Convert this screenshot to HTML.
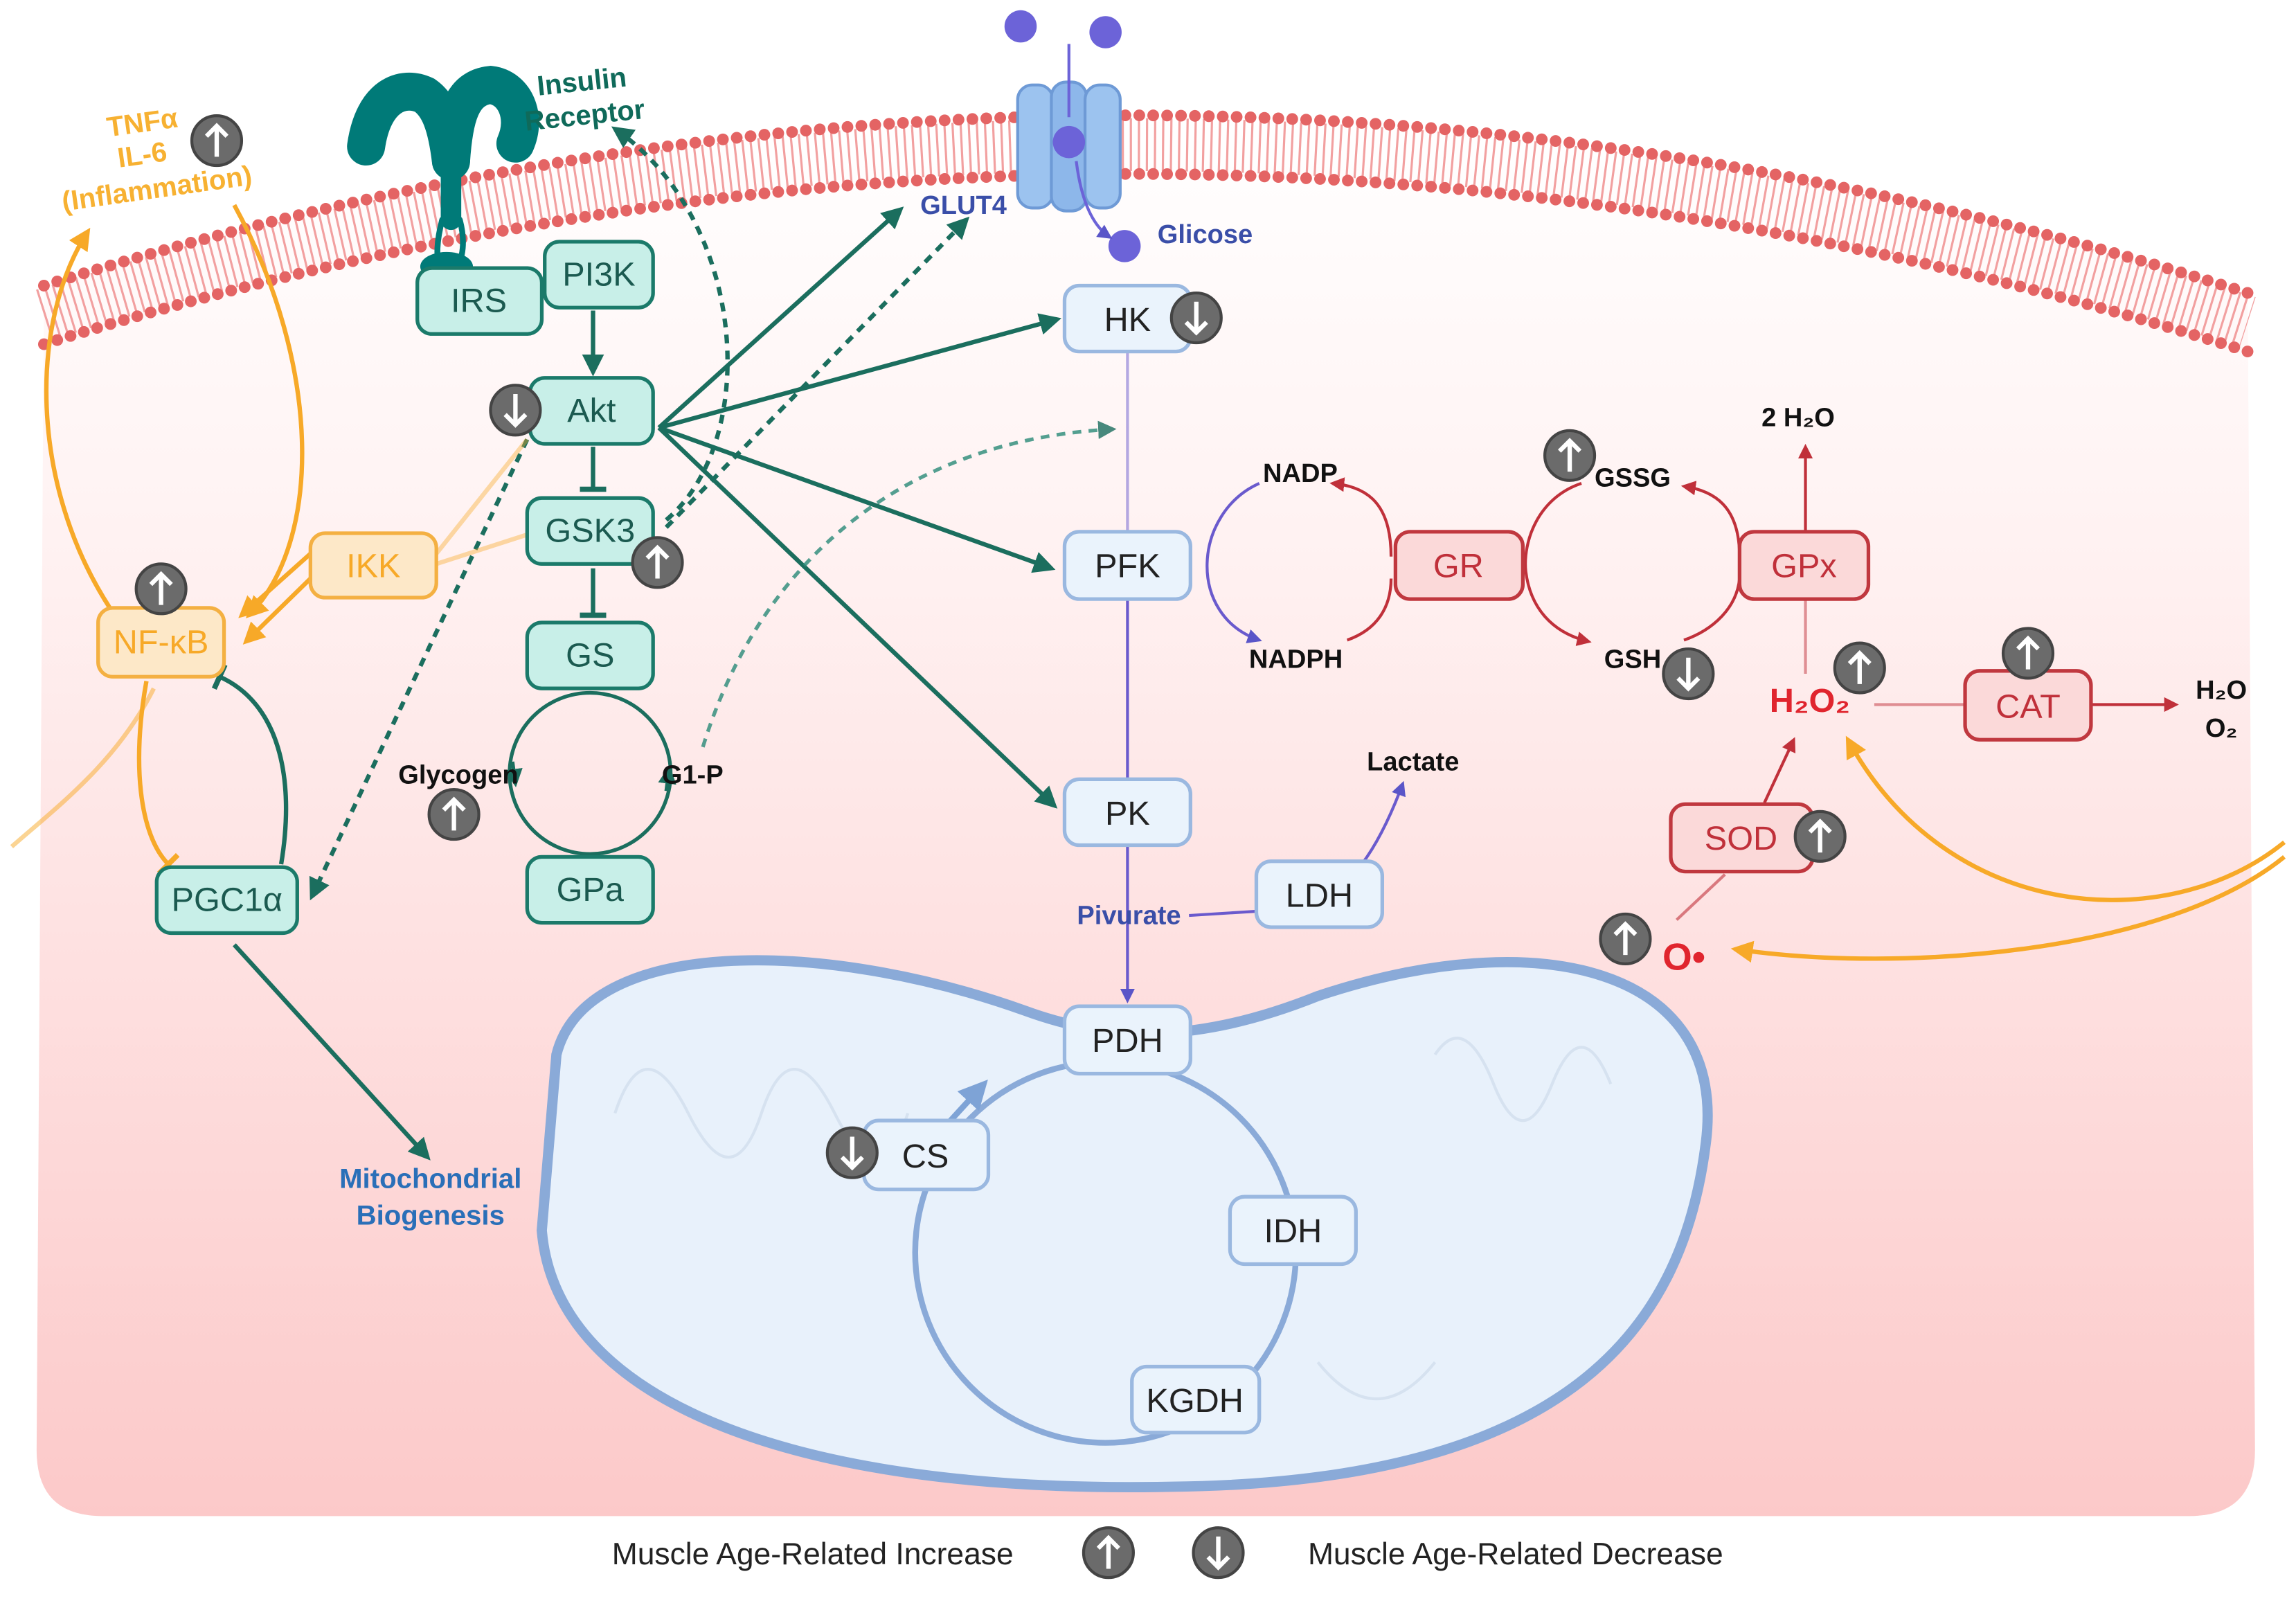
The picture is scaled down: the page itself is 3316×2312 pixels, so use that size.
<!DOCTYPE html>
<html><head><meta charset="utf-8"><style>
html,body{margin:0;padding:0;background:#fff}
svg{display:block}
text{font-family:"Liberation Sans",sans-serif}
.b{font-weight:bold}
</style></head><body>
<svg width="3316" height="2312" viewBox="0 0 1568 1093" preserveAspectRatio="none" xmlns="http://www.w3.org/2000/svg">
<defs>
<linearGradient id="cell" x1="0" y1="0" x2="0" y2="1">
<stop offset="0" stop-color="#ffffff"/><stop offset="0.3" stop-color="#fff2f2"/><stop offset="1" stop-color="#fcc9c9"/>
</linearGradient>
<marker id="at" viewBox="0 0 10 10" refX="8" refY="5" markerWidth="5" markerHeight="5" orient="auto"><path d="M0,0L10,5L0,10z" fill="#1b6e5e"/></marker>
<marker id="ao" viewBox="0 0 10 10" refX="8" refY="5" markerWidth="5" markerHeight="5" orient="auto"><path d="M0,0L10,5L0,10z" fill="#f7a928"/></marker>
<marker id="ar" viewBox="0 0 10 10" refX="8" refY="5" markerWidth="5" markerHeight="5" orient="auto"><path d="M0,0L10,5L0,10z" fill="#c0303a"/></marker>
<marker id="ap" viewBox="0 0 10 10" refX="8" refY="5" markerWidth="5" markerHeight="5" orient="auto"><path d="M0,0L10,5L0,10z" fill="#5a55c8"/></marker>
<marker id="ab" viewBox="0 0 10 10" refX="8" refY="5" markerWidth="5" markerHeight="5" orient="auto"><path d="M0,0L10,5L0,10z" fill="#7ea3d6"/></marker>
<marker id="tt" viewBox="0 0 10 10" refX="5" refY="5" markerWidth="6" markerHeight="6" orient="auto"><path d="M5,0L5,10" stroke="#1b6e5e" stroke-width="2"/></marker>
<marker id="to" viewBox="0 0 10 10" refX="5" refY="5" markerWidth="6" markerHeight="6" orient="auto"><path d="M5,0L5,10" stroke="#f7a928" stroke-width="2"/></marker>
<g id="up"><circle r="17" fill="#6b6b6b" stroke="#444" stroke-width="2"/><path d="M0,11V-10M-7,-3L0,-10L7,-3" stroke="#fff" stroke-width="3" fill="none"/></g>
<g id="dn"><circle r="17" fill="#6b6b6b" stroke="#444" stroke-width="2"/><path d="M0,-11V10M-7,3L0,10L7,3" stroke="#fff" stroke-width="3" fill="none"/></g>
</defs>
<!-- cell -->
<path d="M30,195 Q780,-40 1535,200 L1540,990 Q1540,1035 1495,1035 L70,1035 Q25,1035 25,990 Z" fill="url(#cell)"/>
<!-- membrane -->
<path d="M30,195 Q780,-40 1535,200" fill="none" stroke="#f2a0a0" stroke-width="36" stroke-dasharray="1.5 4" transform="translate(0,20)"/>
<path d="M30,195 Q780,-40 1535,200" fill="none" stroke="#e46464" stroke-width="8" stroke-linecap="round" stroke-dasharray="0 9.5"/>
<path d="M30,195 Q780,-40 1535,200" fill="none" stroke="#e46464" stroke-width="8" stroke-linecap="round" stroke-dasharray="0 9.5" transform="translate(0,40)"/>
<!-- mitochondrion -->
<path d="M380,720 C400,640 560,640 700,690 C760,712 820,712 900,680 C1050,630 1180,660 1165,780 C1150,900 1080,1012 800,1015 C550,1020 380,960 370,840 Z" fill="#e8f1fb" stroke="#8aaad8" stroke-width="7"/>
<path d="M420,760 Q440,700 470,760 T520,760 T570,760 T620,760 M980,720 Q1000,690 1020,740 T1060,740 T1100,740 M900,930 Q940,980 980,930" fill="none" stroke="#d6e2f0" stroke-width="2"/>
<!-- TCA circle -->
<circle cx="755" cy="855" r="130" fill="none" stroke="#8aaad8" stroke-width="4"/>
<path d="M640,775 L672,740" stroke="#7ea3d6" stroke-width="4" marker-end="url(#ab)"/>
<!-- insulin receptor -->
<g stroke="#007a78" stroke-linecap="round" fill="none">
<path d="M250,100 C255,65 275,58 290,65 C300,72 305,85 308,110" stroke-width="26"/>
<path d="M308,110 C310,80 315,60 335,58 C352,60 360,80 352,98" stroke-width="26"/>
<path d="M308,110 L308,150" stroke-width="14"/>
<path d="M302,150 C298,165 298,175 300,185 M314,150 C318,165 316,175 312,185" stroke-width="4"/>
</g>
<ellipse cx="305" cy="182" rx="18" ry="10" fill="#007a78"/>
<text x="398" y="62" class="b" font-size="19" fill="#0f6a5a" text-anchor="middle" transform="rotate(-6 398 62)">Insulin</text>
<text x="400" y="85" class="b" font-size="19" fill="#0f6a5a" text-anchor="middle" transform="rotate(-6 400 85)">Receptor</text>
<!-- TNF -->
<g class="b" font-size="19" fill="#f7b132" text-anchor="middle">
<text x="98" y="90" transform="rotate(-8 98 90)">TNFα</text>
<text x="98" y="112" transform="rotate(-8 98 112)">IL-6</text>
<text x="108" y="135" transform="rotate(-8 108 135)">(Inflammation)</text></g>
<use href="#up" x="148" y="96"/>
<!-- GLUT4 -->
<rect x="695" y="58" width="24" height="84" rx="10" fill="#9cc3ef" stroke="#6e9ad6" stroke-width="2"/>
<rect x="718" y="56" width="24" height="88" rx="10" fill="#8db7ea" stroke="#6e9ad6" stroke-width="2"/>
<rect x="741" y="58" width="24" height="84" rx="10" fill="#9cc3ef" stroke="#6e9ad6" stroke-width="2"/>
<circle cx="697" cy="18" r="11" fill="#6c63d8"/><circle cx="755" cy="22" r="11" fill="#6c63d8"/><circle cx="730" cy="97" r="11" fill="#6c63d8"/><circle cx="768" cy="168" r="11" fill="#6c63d8"/>
<path d="M730,30 L730,80 M735,110 Q740,150 758,162" stroke="#6c63d8" stroke-width="2" fill="none" marker-end="url(#ap)"/>
<text x="658" y="146" class="b" font-size="18" fill="#3a4ea8" text-anchor="middle">GLUT4</text>
<text x="823" y="166" class="b" font-size="18" fill="#3a4ea8" text-anchor="middle">Glicose</text>
<!-- teal arrows -->
<g stroke="#1b6e5e" stroke-width="3" fill="none">
<path d="M450,292 L615,143" marker-end="url(#at)"/>
<path d="M450,292 L722,218" marker-end="url(#at)"/>
<path d="M450,292 L718,388" marker-end="url(#at)"/>
<path d="M450,292 L720,550" marker-end="url(#at)"/>
<path d="M405,212 L405,254" marker-end="url(#at)"/>
<path d="M405,305 L405,334" marker-end="url(#tt)"/>
<path d="M405,388 L405,420" marker-end="url(#tt)"/>
<path d="M455,355 C520,300 510,150 420,88" stroke-dasharray="6 5" marker-end="url(#at)"/>
<path d="M455,360 L660,150" stroke-dasharray="6 5" marker-end="url(#at)"/>
<path d="M360,300 L213,612" stroke-dasharray="6 5" marker-end="url(#at)"/>
<path d="M160,645 L292,790" marker-end="url(#at)"/>
<path d="M192,590 C202,530 190,480 150,462" marker-end="url(#tt)"/>
</g>
<path d="M480,510 C520,380 620,300 760,293" stroke="#2a8a78" stroke-width="2.5" fill="none" stroke-dasharray="6 5" marker-end="url(#at)" opacity="0.8"/>
<!-- glycogen cycle -->
<circle cx="403" cy="528" r="55" fill="none" stroke="#1b6e5e" stroke-width="2.5"/>
<path d="M350,520 L352,535" stroke="#1b6e5e" stroke-width="2.5" marker-end="url(#at)"/>
<path d="M455,540 L457,525" stroke="#1b6e5e" stroke-width="2.5" marker-end="url(#at)"/>
<text x="313" y="535" class="b" font-size="18" fill="#111" text-anchor="middle">Glycogen</text>
<text x="473" y="535" class="b" font-size="18" fill="#111" text-anchor="middle">G1-P</text>
<use href="#up" x="310" y="556"/>
<!-- orange lines -->
<g stroke="#f7a928" stroke-width="3" fill="none">
<path d="M360,300 L298,378" opacity="0.4"/>
<path d="M360,365 L298,385" opacity="0.4"/>
<path d="M212,378 L165,420" marker-end="url(#ao)"/>
<path d="M212,395 L168,438" marker-end="url(#ao)"/>
<path d="M75,415 C20,330 20,220 60,158" marker-end="url(#ao)"/>
<path d="M160,140 C220,250 220,370 170,420" marker-end="url(#ao)"/>
<path d="M100,465 C90,520 95,570 115,590" marker-end="url(#to)"/>
<path d="M105,470 C80,520 40,550 8,578" opacity="0.5"/>
<path d="M1560,575 C1480,640 1330,630 1262,505" marker-end="url(#ao)"/>
<path d="M1560,585 C1480,650 1300,665 1185,648" marker-end="url(#ao)"/>
</g>
<!-- glycolysis purple -->
<g stroke="#6a5acd" stroke-width="2" fill="none">
<path d="M770,240 L770,363" opacity="0.5"/>
<path d="M770,409 L770,532"/>
<path d="M770,577 L770,683" marker-end="url(#ap)"/>
<path d="M812,625 L860,622"/>
<path d="M930,590 Q945,570 958,535" marker-end="url(#ap)"/>
<path d="M860,330 C815,350 810,420 860,437" marker-end="url(#ap)"/>
</g>
<text x="771" y="631" class="b" font-size="18" fill="#3a4ea8" text-anchor="middle">Pivurate</text>
<text x="965" y="526" class="b" font-size="18" fill="#111" text-anchor="middle">Lactate</text>
<!-- red arcs -->
<g stroke="#c0303a" stroke-width="2" fill="none">
<path d="M950,380 C950,340 930,332 910,330" marker-end="url(#ar)"/>
<path d="M920,437 C940,430 950,415 950,395"/>
<path d="M1080,330 C1050,340 1040,370 1042,390 C1045,415 1060,432 1085,438" marker-end="url(#ar)"/>
<path d="M1188,380 C1188,345 1170,335 1150,332" marker-end="url(#ar)"/>
<path d="M1150,437 C1170,430 1186,415 1188,395"/>
<path d="M1233,362 L1233,305" marker-end="url(#ar)"/>
<path d="M1233,410 L1233,460" opacity="0.5"/>
<path d="M1280,481 L1342,481" opacity="0.5"/>
<path d="M1428,481 L1486,481" marker-end="url(#ar)"/>
<path d="M1205,548 L1225,505" marker-end="url(#ar)"/>
<path d="M1145,628 L1178,597" opacity="0.6"/>
</g>
<g class="b" font-size="18" fill="#111" text-anchor="middle">
<text x="888" y="329">NADP</text><text x="885" y="456">NADPH</text>
<text x="1115" y="332">GSSG</text><text x="1115" y="456">GSH</text>
<text x="1228" y="291">2 H₂O</text>
<text x="1517" y="477">H₂O</text><text x="1517" y="503">O₂</text></g>
<text x="1236" y="486" class="b" font-size="23" fill="#e0252e" text-anchor="middle">H₂O₂</text>
<text x="1150" y="662" class="b" font-size="26" fill="#e0252e" text-anchor="middle">O•</text>
<text x="294" y="811" class="b" font-size="19" fill="#2a6fb8" text-anchor="middle">Mitochondrial</text>
<text x="294" y="836" class="b" font-size="19" fill="#2a6fb8" text-anchor="middle">Biogenesis</text>
<!-- nodes -->
<g font-size="23" text-anchor="middle" stroke-width="2.5">
<g fill="#c8efe8" stroke="#1b7a6a">
<rect x="285" y="183" width="85" height="45" rx="10"/>
<rect x="372" y="165" width="74" height="45" rx="10"/>
<rect x="362" y="258" width="84" height="45" rx="10"/>
<rect x="360" y="340" width="86" height="45" rx="10"/>
<rect x="360" y="425" width="86" height="45" rx="10"/>
<rect x="360" y="585" width="86" height="45" rx="10"/>
<rect x="107" y="592" width="96" height="45" rx="10"/>
</g>
<g fill="#1b5a50" stroke="none">
<text x="327" y="213">IRS</text><text x="409" y="195">PI3K</text><text x="404" y="288">Akt</text>
<text x="403" y="370">GSK3</text><text x="403" y="455">GS</text><text x="403" y="615">GPa</text><text x="155" y="622">PGC1α</text></g>
<g fill="#fde8c8" stroke="#f4b042">
<rect x="212" y="364" width="86" height="44" rx="10"/>
<rect x="67" y="415" width="86" height="47" rx="10"/></g>
<g fill="#f7a928" stroke="none"><text x="255" y="394">IKK</text><text x="110" y="446">NF-κB</text></g>
<g fill="#eaf3fc" stroke="#9ab8e0">
<rect x="727" y="195" width="86" height="45" rx="10"/>
<rect x="727" y="363" width="86" height="46" rx="10"/>
<rect x="727" y="532" width="86" height="45" rx="10"/>
<rect x="858" y="588" width="86" height="45" rx="10"/>
<rect x="727" y="687" width="86" height="46" rx="10"/>
<rect x="590" y="765" width="85" height="47" rx="10"/>
<rect x="840" y="817" width="86" height="46" rx="10"/>
<rect x="773" y="933" width="87" height="45" rx="10"/></g>
<g fill="#222" stroke="none">
<text x="770" y="226">HK</text><text x="770" y="394">PFK</text><text x="770" y="563">PK</text><text x="901" y="619">LDH</text>
<text x="770" y="718">PDH</text><text x="632" y="797">CS</text><text x="883" y="848">IDH</text><text x="816" y="964">KGDH</text></g>
<g fill="#fbd9d9" stroke="#c0383f">
<rect x="953" y="363" width="87" height="46" rx="10"/>
<rect x="1188" y="363" width="88" height="46" rx="10"/>
<rect x="1342" y="458" width="86" height="47" rx="10"/>
<rect x="1141" y="549" width="97" height="46" rx="10"/></g>
<g fill="#c0303a" stroke="none">
<text x="996" y="394">GR</text><text x="1232" y="394">GPx</text><text x="1385" y="490">CAT</text><text x="1189" y="580">SOD</text></g>
</g>
<!-- badges -->
<use href="#dn" x="352" y="280"/><use href="#up" x="449" y="384"/><use href="#up" x="110" y="402"/>
<use href="#dn" x="817" y="217"/><use href="#dn" x="582" y="787"/>
<use href="#up" x="1072" y="311"/><use href="#dn" x="1153" y="460"/>
<use href="#up" x="1270" y="456"/><use href="#up" x="1385" y="446"/>
<use href="#up" x="1243" y="571"/><use href="#up" x="1110" y="641"/>
<!-- legend -->
<text x="555" y="1068" font-size="21" fill="#222" text-anchor="middle">Muscle Age-Related Increase</text>
<use href="#up" x="757" y="1060"/><use href="#dn" x="832" y="1060"/>
<text x="1035" y="1068" font-size="21" fill="#222" text-anchor="middle">Muscle Age-Related Decrease</text>
</svg>
</body></html>
